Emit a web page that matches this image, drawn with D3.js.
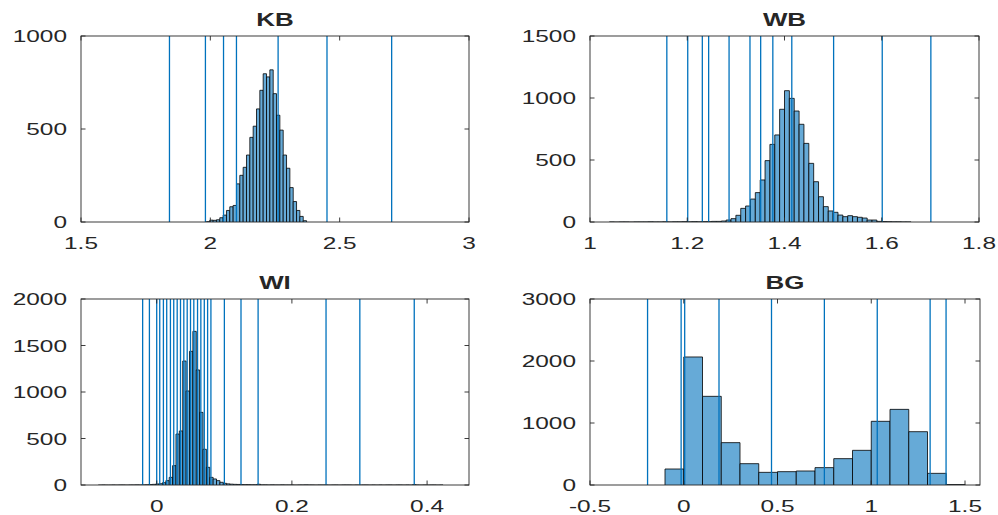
<!DOCTYPE html>
<html>
<head>
<meta charset="utf-8">
<script src="https://cdn.jsdelivr.net/npm/d3@7/dist/d3.min.js"></script>
<style>
html,body{margin:0;padding:0;background:#fff;}
svg{display:block;}
text{font-family:"Liberation Sans",Arial,Helvetica,sans-serif;fill:#262626;}
</style>
</head>
<body>
<svg id="chart" width="998" height="515"></svg>
<script>
// ---------------- DATA ----------------
const panelTitles = ["KB", "WB", "WI", "BG"];

// KB
const kbBinStart = 1.985, kbBinWidth = 0.0129;
const kbCounts = [2, 10, 9, 12, 23, 37, 62, 82, 89, 205, 251, 294, 360, 455, 515, 608, 708, 797, 780, 818, 690, 574, 494, 360, 289, 185, 110, 62, 30, 7];
const kbLines = [1.842, 1.981, 2.051, 2.101, 2.262, 2.451, 2.701];
const kbXDomain = [1.5, 3], kbYMax = 1000;
const kbXTicks = [1.5, 2, 2.5, 3], kbXTickLabels = ["1.5", "2", "2.5", "3"];
const kbYTicks = [0, 500, 1000], kbYTickLabels = ["0", "500", "1000"];

// WB
const wbBinStart = 1.04, wbBinWidth = 0.01;
const wbCounts = [1, 0, 1, 1, 0, 1, 1, 1, 2, 1, 1, 2, 1, 2, 2, 3, 2, 3, 2,
  3, 3, 5, 5, 8, 16, 27, 54, 110, 129, 185, 237, 339, 495, 626, 702, 909, 1059, 997, 895, 788, 634, 473, 325, 204, 124, 89, 78, 56, 43, 51, 43, 38, 32, 16, 16, 5, 4, 3, 2, 2, 1, 1];
const wbLines = [1.158, 1.201, 1.231, 1.244, 1.286, 1.329, 1.351, 1.376, 1.415, 1.501, 1.601, 1.701];
const wbXDomain = [1, 1.8], wbYMax = 1500;
const wbXTicks = [1, 1.2, 1.4, 1.6, 1.8], wbXTickLabels = ["1", "1.2", "1.4", "1.6", "1.8"];
const wbYTicks = [0, 500, 1000, 1500], wbYTickLabels = ["0", "500", "1000", "1500"];

// WI
const wiBinStart = -0.0865, wiBinWidth = 0.005;
const wiCounts = [0, 1, 0, 0, 1, 0, 1, 1, 0, 1, 1, 2, 1, 2, 3, 5,
  7, 11, 14, 25, 47, 82, 208, 548, 581, 1333, 1011, 1437, 1652, 1237, 781, 384, 190, 82, 65, 47, 29, 18,
  12, 9, 7, 6, 5, 4, 4, 3, 3, 8, 2, 2, 1, 2, 1, 1, 2, 1, 1, 1, 0, 1, 1, 2, 1, 1, 0, 1, 1, 1, 0, 1, 1, 0, 1, 1,
  1, 0, 1, 0, 1, 1, 0, 1, 0, 1, 0, 1, 1, 0, 1, 1, 0, 1, 0, 4, 1, 0, 1, 0, 1, 1, 0, 1];
const wiLines = [-0.0208, -0.0108, 0, 0.0045, 0.0099, 0.0148, 0.0203, 0.0252, 0.0303, 0.0352, 0.0401, 0.0451, 0.050, 0.0549, 0.0604, 0.0653, 0.0704, 0.0753, 0.0802, 0.1001, 0.1247, 0.150, 0.2505, 0.3005, 0.381];
const wiXDomain = [-0.112, 0.462], wiYMax = 2000;
const wiXTicks = [0, 0.2, 0.4], wiXTickLabels = ["0", "0.2", "0.4"];
const wiYTicks = [0, 500, 1000, 1500, 2000], wiYTickLabels = ["0", "500", "1000", "1500", "2000"];

// BG
const bgBinStart = -0.1, bgBinWidth = 0.1;
const bgCounts = [258, 2065, 1430, 683, 344, 204, 215, 226, 280, 425, 559, 1027, 1220, 860, 188, 8];
const bgLines = [-0.193, -0.014, 0.005, 0.188, 0.468, 0.75, 1.032, 1.314, 1.399];
const bgXDomain = [-0.5, 1.58], bgYMax = 3000;
const bgXTicks = [-0.5, 0, 0.5, 1, 1.5], bgXTickLabels = ["-0.5", "0", "0.5", "1", "1.5"];
const bgYTicks = [0, 1000, 2000, 3000], bgYTickLabels = ["0", "1000", "2000", "3000"];

// ---------------- LAYOUT ----------------
const boxes = [
  {x0: 81, x1: 469, y0: 36, y1: 222},
  {x0: 590, x1: 979, y0: 36, y1: 222},
  {x0: 81, x1: 469, y0: 299, y1: 485},
  {x0: 590, x1: 980, y0: 299, y1: 485}
];
const panels = [
  {binStart: kbBinStart, binWidth: kbBinWidth, counts: kbCounts, lines: kbLines, xDomain: kbXDomain, yMax: kbYMax, xTicks: kbXTicks, xLabels: kbXTickLabels, yTicks: kbYTicks, yLabels: kbYTickLabels},
  {binStart: wbBinStart, binWidth: wbBinWidth, counts: wbCounts, lines: wbLines, xDomain: wbXDomain, yMax: wbYMax, xTicks: wbXTicks, xLabels: wbXTickLabels, yTicks: wbYTicks, yLabels: wbYTickLabels},
  {binStart: wiBinStart, binWidth: wiBinWidth, counts: wiCounts, lines: wiLines, xDomain: wiXDomain, yMax: wiYMax, xTicks: wiXTicks, xLabels: wiXTickLabels, yTicks: wiYTicks, yLabels: wiYTickLabels},
  {binStart: bgBinStart, binWidth: bgBinWidth, counts: bgCounts, lines: bgLines, xDomain: bgXDomain, yMax: bgYMax, xTicks: bgXTicks, xLabels: bgXTickLabels, yTicks: bgYTicks, yLabels: bgYTickLabels}
];

const SX = 1.48;           // horizontal stretch of the text (reference is stretched)
const FS = 16.5;           // tick label font size
const TFS = 17.5;          // title font size
const TICK = 4.5;
const axisColor = "#262626";
const faceColor = "#66AAD7";
const lineColor = "#0072BD";

const svg = d3.select("#chart");

panels.forEach((p, i) => {
  const b = boxes[i];
  const x = d3.scaleLinear().domain(p.xDomain).range([b.x0, b.x1]);
  const y = d3.scaleLinear().domain([0, p.yMax]).range([b.y1, b.y0]);
  const g = svg.append("g");

  const clipId = "clip" + i;
  svg.append("clipPath").attr("id", clipId).append("rect")
    .attr("x", b.x0).attr("y", b.y0 - 1).attr("width", b.x1 - b.x0).attr("height", b.y1 - b.y0 + 1);

  const bins = p.counts.map((c, k) => ({x0: p.binStart + k * p.binWidth, x1: p.binStart + (k + 1) * p.binWidth, c}));

  // bars (paths so zero-height bins still show their edge)
  g.append("g").attr("clip-path", `url(#${clipId})`).selectAll("path.bar").data(bins).enter().append("path")
    .attr("class", "bar")
    .attr("d", d => {
      const xa = x(d.x0), xb = x(d.x1), yb = y(0), yt = y(d.c);
      return `M${xa},${yb}V${yt}H${xb}V${yb}`;
    })
    .attr("fill", faceColor)
    .attr("stroke", "#000")
    .attr("stroke-width", 0.8);

  // vertical reference lines
  g.append("g").attr("clip-path", `url(#${clipId})`).selectAll("line.ref").data(p.lines).enter().append("line")
    .attr("class", "ref")
    .attr("x1", d => x(d)).attr("x2", d => x(d))
    .attr("y1", b.y0).attr("y2", b.y1)
    .attr("stroke", lineColor).attr("stroke-width", 1.3);

  // box
  g.append("rect").attr("x", b.x0).attr("y", b.y0).attr("width", b.x1 - b.x0).attr("height", b.y1 - b.y0)
    .attr("fill", "none").attr("stroke", axisColor).attr("stroke-width", 0.9);

  // ticks (inward, mirrored)
  const tk = g.append("g").attr("stroke", axisColor).attr("stroke-width", 0.9);
  p.xTicks.forEach(t => {
    const xx = x(t);
    tk.append("line").attr("x1", xx).attr("x2", xx).attr("y1", b.y1).attr("y2", b.y1 - TICK);
    tk.append("line").attr("x1", xx).attr("x2", xx).attr("y1", b.y0).attr("y2", b.y0 + TICK);
  });
  p.yTicks.forEach(t => {
    const yy = y(t);
    tk.append("line").attr("x1", b.x0).attr("x2", b.x0 + TICK).attr("y1", yy).attr("y2", yy);
    tk.append("line").attr("x1", b.x1).attr("x2", b.x1 - TICK).attr("y1", yy).attr("y2", yy);
  });

  // x tick labels
  p.xTicks.forEach((t, k) => {
    g.append("text")
      .attr("transform", `translate(${x(t)},${b.y1 + 27}) scale(${SX},1)`)
      .attr("text-anchor", "middle")
      .attr("font-size", FS)
      .text(p.xLabels[k]);
  });
  // y tick labels
  p.yTicks.forEach((t, k) => {
    g.append("text")
      .attr("transform", `translate(${b.x0 - 14},${y(t) + 6}) scale(${SX},1)`)
      .attr("text-anchor", "end")
      .attr("font-size", FS)
      .text(p.yLabels[k]);
  });

  // title
  g.append("text")
    .attr("transform", `translate(${(b.x0 + b.x1) / 2},${b.y0 - 10}) scale(${SX},1)`)
    .attr("text-anchor", "middle")
    .attr("font-size", TFS)
    .attr("font-weight", "bold")
    .attr("fill", "#000")
    .text(panelTitles[i]);
});
</script>
</body>
</html>
